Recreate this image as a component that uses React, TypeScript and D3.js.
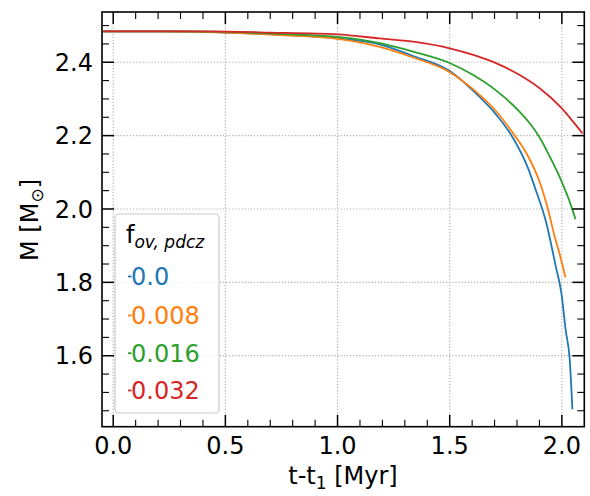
import React from 'react';
import * as d3 from 'd3';

// Series data
const xBlue = [-0.045, 0.2, 0.5, 0.75, 1.0, 1.188, 1.337, 1.5, 1.605, 1.709, 1.783, 1.85, 1.879, 1.931, 1.973, 1.998, 2.017, 2.035, 2.047];
const yBlue = [2.484, 2.484, 2.481, 2.475, 2.465, 2.449, 2.417, 2.376, 2.322, 2.256, 2.193, 2.11, 2.06, 1.961, 1.843, 1.77, 1.67, 1.589, 1.454];

const xOrange = [-0.045, 0.2, 0.5, 0.75, 1.0, 1.188, 1.337, 1.5, 1.605, 1.709, 1.79, 1.842, 1.902, 1.939, 1.968, 1.991, 2.016];
const yOrange = [2.484, 2.484, 2.481, 2.474, 2.464, 2.442, 2.413, 2.373, 2.326, 2.265, 2.2, 2.152, 2.072, 1.997, 1.925, 1.875, 1.814];

const xGreen = [-0.045, 0.3, 0.6, 0.8, 1.0, 1.188, 1.337, 1.5, 1.605, 1.709, 1.812, 1.855, 1.901, 1.946, 1.983, 2.005, 2.032, 2.061];
const yGreen = [2.484, 2.484, 2.481, 2.476, 2.469, 2.452, 2.429, 2.398, 2.365, 2.322, 2.265, 2.235, 2.195, 2.143, 2.097, 2.066, 2.025, 1.972];

const xRed = [-0.045, 0.4, 0.7, 1.0, 1.188, 1.337, 1.5, 1.605, 1.709, 1.812, 1.901, 2.0, 2.05, 2.092];
const yRed = [2.484, 2.484, 2.481, 2.476, 2.465, 2.456, 2.438, 2.42, 2.397, 2.365, 2.329, 2.274, 2.238, 2.206];

const seriesLabels = ['0.0', '0.008', '0.016', '0.032'];
const seriesColors = ['#1f77b4', '#ff7f0e', '#2ca02c', '#d62728'];
const seriesX = [xBlue, xOrange, xGreen, xRed];
const seriesY = [yBlue, yOrange, yGreen, yRed];

const xTickValues = [0, 0.5, 1.0, 1.5, 2.0];
const xTickLabels = ['0.0', '0.5', '1.0', '1.5', '2.0'];
const yTickValues = [1.6, 1.8, 2.0, 2.2, 2.4];
const yTickLabels = ['1.6', '1.8', '2.0', '2.2', '2.4'];

const FONT = 'DejaVu Sans, sans-serif';
const FS = 24;
const SUB = 17;

export default function App() {
  const L = 102, R = 584.3, T = 12, B = 426.7;
  const x = d3.scaleLinear().domain([-0.05, 2.1]).range([L, R]);
  const y = d3.scaleLinear().domain([1.4065, 2.537]).range([B, T]);
  const line = d3.line<[number, number]>().x(d => x(d[0])).y(d => y(d[1])).curve(d3.curveMonotoneX);

  const xMinor = d3.range(0, 21).map(i => i * 0.1).filter(v => Math.abs(v * 2 - Math.round(v * 2)) > 1e-6);
  const yMinor = d3.range(29, 51).map(i => i * 0.05).filter(v => Math.abs(v * 5 - Math.round(v * 5)) > 1e-6 && v > 1.41 && v < 2.53);

  const majLen = 12, minLen = 7;
  const gridStyle = { stroke: '#b0b0b0', strokeWidth: 1.2, strokeDasharray: '1.2,1.9' };

  const legendRows = [285, 324, 361.7, 399];

  return (
    <svg width={590} height={496} style={{ position: 'absolute', left: 0, top: 0 }} fontFamily={FONT}>
      <rect x={0} y={0} width={590} height={496} fill="#fff" />
      {/* grid */}
      {xTickValues.map((v, i) => (
        <line key={'gx' + i} x1={x(v)} x2={x(v)} y1={T} y2={B} {...gridStyle} />
      ))}
      {yTickValues.map((v, i) => (
        <line key={'gy' + i} x1={L} x2={R} y1={y(v)} y2={y(v)} {...gridStyle} />
      ))}
      {/* curves */}
      {seriesX.map((xs, si) => (
        <path key={'s' + si}
          d={line(xs.map((xv, j) => [xv, seriesY[si][j]] as [number, number])) || ''}
          fill="none" stroke={seriesColors[si]} strokeWidth={1.8} strokeLinejoin="round" />
      ))}
      {/* ticks */}
      <g stroke="#000">
        {xTickValues.map((v, i) => (
          <g key={'xt' + i}>
            <line x1={x(v)} x2={x(v)} y1={B} y2={B - majLen} strokeWidth={1.5} />
            <line x1={x(v)} x2={x(v)} y1={T} y2={T + majLen} strokeWidth={1.5} />
          </g>
        ))}
        {xMinor.map((v, i) => (
          <g key={'xm' + i}>
            <line x1={x(v)} x2={x(v)} y1={B} y2={B - minLen} strokeWidth={1.1} />
            <line x1={x(v)} x2={x(v)} y1={T} y2={T + minLen} strokeWidth={1.1} />
          </g>
        ))}
        {yTickValues.map((v, i) => (
          <g key={'yt' + i}>
            <line x1={L} x2={L + majLen} y1={y(v)} y2={y(v)} strokeWidth={1.5} />
            <line x1={R} x2={R - majLen} y1={y(v)} y2={y(v)} strokeWidth={1.5} />
          </g>
        ))}
        {yMinor.map((v, i) => (
          <g key={'ym' + i}>
            <line x1={L} x2={L + minLen} y1={y(v)} y2={y(v)} strokeWidth={1.1} />
            <line x1={R} x2={R - minLen} y1={y(v)} y2={y(v)} strokeWidth={1.1} />
          </g>
        ))}
      </g>
      {/* legend */}
      <rect x={115} y={214} width={104} height={199} rx={4} ry={4} fill="#fff" fillOpacity={0.8} stroke="#cccccc" strokeWidth={1.2} />
      <text x={126} y={243} fontSize={FS} fill="#000">
        f<tspan fontSize={SUB} fontStyle="italic" dy={5}>ov, pdcz</tspan>
      </text>
      {seriesLabels.map((lab, i) => (
        <g key={'lg' + i}>
          <line x1={128} x2={131.5} y1={legendRows[i] - 8.5} y2={legendRows[i] - 8.5} stroke={seriesColors[i]} strokeWidth={1.8} />
          <text x={131} y={legendRows[i]} fontSize={FS} fill={seriesColors[i]}>{lab}</text>
        </g>
      ))}
      {/* frame */}
      <rect x={L} y={T} width={R - L} height={B - T} fill="none" stroke="#000" strokeWidth={1.6} />
      {/* tick labels */}
      {xTickValues.map((v, i) => (
        <text key={'xl' + i} x={x(v)} y={453.5} fontSize={FS} textAnchor="middle" fill="#000">{xTickLabels[i]}</text>
      ))}
      {yTickValues.map((v, i) => (
        <text key={'yl' + i} x={93} y={y(v) + 8.7} fontSize={FS} textAnchor="end" fill="#000">{yTickLabels[i]}</text>
      ))}
      {/* axis labels */}
      <text x={343} y={484} fontSize={FS} textAnchor="middle" fill="#000">
        t-t<tspan fontSize={SUB} dy={5}>1</tspan><tspan dy={-5}> [Myr]</tspan>
      </text>
      <text transform="translate(38,220) rotate(-90)" fontSize={FS} textAnchor="middle" fill="#000">
        M [M<tspan fontSize={SUB} dy={5}>⊙</tspan><tspan dy={-5}>]</tspan>
      </text>
    </svg>
  );
}
